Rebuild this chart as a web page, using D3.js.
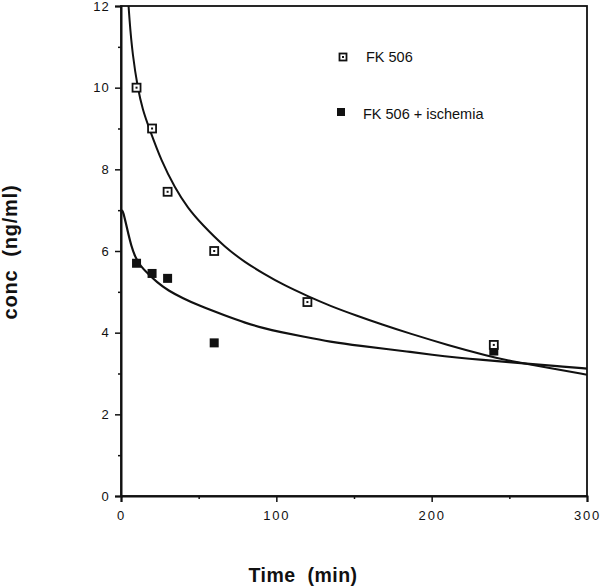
<!DOCTYPE html>
<html>
<head>
<meta charset="utf-8">
<script src="https://cdn.jsdelivr.net/npm/d3@7"></script>
<style>
  html, body { margin: 0; padding: 0; background: #fff; }
  svg { display: block; }
  text { font-family: "Liberation Sans", Arial, Helvetica, sans-serif; fill: #111; }
</style>
</head>
<body>
<svg id="chart" width="600" height="587"></svg>
<script>
// ---- data ----
const fkTime = [10, 20, 30, 60, 120, 240];
const fkConc = [10.0, 9.0, 7.45, 6.0, 4.75, 3.7];
const isTime = [10, 20, 30, 60, 240];
const isConc = [5.7, 5.45, 5.33, 3.75, 3.55];

// fitted curves
const fkFitTime = [3.5, 5.5, 7.5, 10.7, 14, 18.2, 26, 34.7, 43, 51.9, 66.9, 80, 92, 105, 120.4, 135, 151.5, 168, 185.8, 210, 237.2, 250, 275, 300];
const fkFitConc = [12.8, 11.6, 10.8, 10.0, 9.45, 9.0, 8.2, 7.55, 7.05, 6.66, 6.09, 5.72, 5.44, 5.16, 4.89, 4.65, 4.42, 4.2, 3.98, 3.7, 3.42, 3.31, 3.14, 2.97];
const isFitTime = [0.5, 1.5, 3, 4.7, 6.5, 9, 12.5, 17.6, 23, 30.4, 40, 49.7, 66.9, 80, 92.6, 102, 118, 134, 155, 173, 186, 200, 216, 233, 250, 265, 280, 300];
const isFitConc = [7.0, 6.95, 6.7, 6.42, 6.14, 5.86, 5.63, 5.44, 5.24, 5.03, 4.84, 4.67, 4.42, 4.24, 4.1, 4.02, 3.9, 3.78, 3.67, 3.59, 3.53, 3.46, 3.39, 3.33, 3.28, 3.23, 3.18, 3.12];

const xTicks = [0, 100, 200, 300];
const xMinor = [50, 150, 250];
const yTicks = [0, 2, 4, 6, 8, 10, 12];
const yMinor = [1, 3, 5, 7, 9, 11];
const seriesNames = ["FK 506", "FK 506 + ischemia"];
const xTitle = "Time  (min)";
const yTitle = "conc  (ng/ml)";

// ---- layout ----
const svg = d3.select("#chart");
const L = 121, R = 587, T = 6, B = 496;
const x = d3.scaleLinear().domain([0, 300]).range([L, R]);
const y = d3.scaleLinear().domain([0, 12]).range([B, T]);

// clip
svg.append("defs").append("clipPath").attr("id", "plotclip")
  .append("rect").attr("x", L).attr("y", T).attr("width", R - L).attr("height", B - T);

// frame
svg.append("rect").attr("x", L).attr("y", T).attr("width", R - L).attr("height", B - T)
  .attr("fill", "none").attr("stroke", "#111").attr("stroke-width", 1.8);

// x axis
const xAxis = d3.axisBottom(x).tickValues(xTicks).tickSize(6).tickPadding(9).tickFormat(d3.format("d"));
const gx = svg.append("g").attr("transform", `translate(0,${B})`).call(xAxis);
gx.select(".domain").attr("stroke", "#111").attr("stroke-width", 2);
gx.selectAll(".tick line").attr("stroke", "#111").attr("stroke-width", 1.5);
gx.selectAll(".tick text").attr("font-size", 13).attr("letter-spacing", "1.8px")
  .attr("font-family", "'Liberation Sans', Arial, sans-serif").attr("fill", "#111");
const gxm = svg.append("g").attr("transform", `translate(0,${B})`)
  .call(d3.axisBottom(x).tickValues(xMinor).tickSize(3).tickFormat(""));
gxm.select(".domain").remove();
gxm.selectAll(".tick line").attr("stroke", "#111").attr("stroke-width", 1.5);

// y axis
const yAxis = d3.axisLeft(y).tickValues(yTicks).tickSize(6).tickPadding(5).tickFormat(d3.format("d"));
const gy = svg.append("g").attr("transform", `translate(${L},0)`).call(yAxis);
gy.select(".domain").attr("stroke", "#111").attr("stroke-width", 2);
gy.selectAll(".tick line").attr("stroke", "#111").attr("stroke-width", 1.5);
gy.selectAll(".tick text").attr("font-size", 13).attr("letter-spacing", "1.2px")
  .attr("font-family", "'Liberation Sans', Arial, sans-serif").attr("fill", "#111");
const gym = svg.append("g").attr("transform", `translate(${L},0)`)
  .call(d3.axisLeft(y).tickValues(yMinor).tickSize(3).tickFormat(""));
gym.select(".domain").remove();
gym.selectAll(".tick line").attr("stroke", "#111").attr("stroke-width", 1.5);

// fitted curves
const line = d3.line().x(d => x(d[0])).y(d => y(d[1])).curve(d3.curveBasis);
const curveG = svg.append("g").attr("clip-path", "url(#plotclip)");
curveG.append("path").datum(d3.zip(fkFitTime, fkFitConc)).attr("d", line)
  .attr("fill", "none").attr("stroke", "#111").attr("stroke-width", 2);
curveG.append("path").datum(d3.zip(isFitTime, isFitConc)).attr("d", line)
  .attr("fill", "none").attr("stroke", "#111").attr("stroke-width", 2.2);

// markers
function openSquare(g, cx, cy, s) {
  g.append("rect").attr("x", cx - s / 2).attr("y", cy - s / 2).attr("width", s).attr("height", s)
    .attr("fill", "#fff").attr("stroke", "#111").attr("stroke-width", 1.8);
  g.append("rect").attr("x", cx - 1).attr("y", cy - 1).attr("width", 2).attr("height", 2).attr("fill", "#111");
}
function filledSquare(g, cx, cy, s) {
  g.append("rect").attr("x", cx - s / 2).attr("y", cy - s / 2).attr("width", s).attr("height", s)
    .attr("fill", "#111");
}
const mk = svg.append("g");
d3.zip(isTime, isConc).forEach(d => filledSquare(mk, x(d[0]), y(d[1]), 9));
d3.zip(fkTime, fkConc).forEach(d => openSquare(mk, x(d[0]), y(d[1]), 8));

// legend
const lg = svg.append("g");
openSquare(lg, 343, 57, 7);
lg.append("text").attr("x", 366).attr("y", 62).attr("font-size", 14.5).text(seriesNames[0]);
filledSquare(lg, 341, 112, 8);
lg.append("text").attr("x", 363).attr("y", 119).attr("font-size", 14.5).text(seriesNames[1]);

// axis titles
svg.append("text").attr("x", 303).attr("y", 582).attr("text-anchor", "middle")
  .attr("font-size", 19.5).attr("font-weight", "bold").attr("letter-spacing", "0.5px")
  .style("white-space", "pre").text(xTitle);
svg.append("text").attr("transform", "translate(17,252) rotate(-90)").attr("text-anchor", "middle")
  .attr("font-size", 20).attr("font-weight", "bold").attr("letter-spacing", "0.8px")
  .style("white-space", "pre").text(yTitle);
</script>
</body>
</html>
